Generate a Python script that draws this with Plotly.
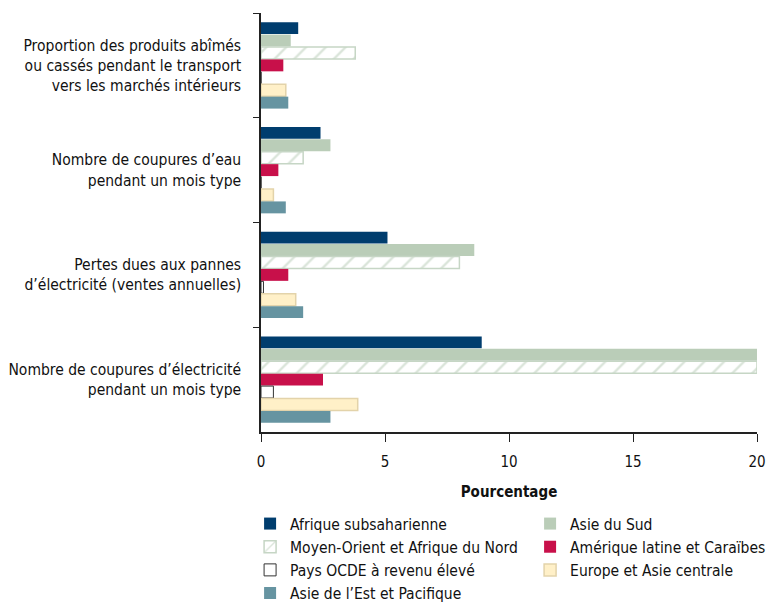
import plotly.graph_objects as go

# Indicator categories (top to bottom)
categories = [
    "Proportion des produits abîmés<br>ou cassés pendant le transport<br>vers les marchés intérieurs",
    "Nombre de coupures d’eau<br>pendant un mois type",
    "Pertes dues aux pannes<br>d’électricité (ventes annuelles)",
    "Nombre de coupures d’électricité<br>pendant un mois type",
]

# Values per region (percentage), in category order
afrique_subsaharienne = [1.5, 2.4, 5.1, 8.9]
asie_du_sud = [1.2, 2.8, 8.6, 20.0]
moyen_orient_afrique_nord = [3.8, 1.7, 8.0, 20.0]
amerique_latine_caraibes = [0.9, 0.7, 1.1, 2.5]
pays_ocde = [0.0, 0.0, 0.1, 0.5]
europe_asie_centrale = [1.0, 0.5, 1.4, 3.9]
asie_est_pacifique = [1.1, 1.0, 1.7, 2.8]

series = [
    ("Afrique subsaharienne", afrique_subsaharienne,
     dict(color="#003d6e", line=dict(width=0))),
    ("Asie du Sud", asie_du_sud,
     dict(color="#bacdb8", line=dict(width=0))),
    ("Moyen-Orient et Afrique du Nord", moyen_orient_afrique_nord,
     dict(color="white", line=dict(color="#c6d6c5", width=1.5),
          pattern=dict(shape="/", fgcolor="#b5cab4", bgcolor="white", size=14, solidity=0.17))),
    ("Amérique latine et Caraïbes", amerique_latine_caraibes,
     dict(color="#c8104a", line=dict(width=0))),
    ("Pays OCDE à revenu élevé", pays_ocde,
     dict(color="white", line=dict(color="#333333", width=1))),
    ("Europe et Asie centrale", europe_asie_centrale,
     dict(color="#fff0c8", line=dict(color="#e3d3aa", width=1.5))),
    ("Asie de l’Est et Pacifique", asie_est_pacifique,
     dict(color="#6694a1", line=dict(width=0))),
]

FONT = "Liberation Sans Narrow, DejaVu Sans Condensed, Arial Narrow, sans-serif"

fig = go.Figure()
for name, vals, marker in series:
    fig.add_trace(go.Bar(
        y=categories, x=vals, name=name, orientation="h",
        marker=marker, cliponaxis=True,
    ))

fig.update_layout(
    width=769, height=603,
    margin=dict(l=261, r=12, t=13, b=171, autoexpand=False),
    paper_bgcolor="white", plot_bgcolor="white",
    font=dict(family=FONT, size=15, color="#111111"),
    barmode="group", bargap=0.17, bargroupgap=0.04,
    showlegend=True,
    legend=dict(
        orientation="h", x=-0.022, xanchor="left", y=-0.179, yanchor="top",
        entrywidth=235, entrywidthmode="pixels",
        font=dict(family=FONT, size=15.5, color="#111111"),
        traceorder="normal", itemclick=False,
    ),
    xaxis=dict(
        range=[0, 20], tickvals=[0, 5, 10, 15, 20],
        showgrid=False, zeroline=False,
        showline=True, linecolor="#222222", linewidth=1.5,
        ticks="outside", ticklen=8, tickcolor="#222222",
        tickfont=dict(family=FONT, size=15),
        ticklabelstandoff=7,
        title=dict(text="<b>Pourcentage</b>", standoff=17,
                   font=dict(family=FONT, size=15)),
    ),
    yaxis=dict(
        autorange="reversed", showgrid=False,
        showline=True, linecolor="#222222", linewidth=1.5,
        ticks="outside", ticklen=6, tickcolor="#222222", tickson="boundaries",
        tickfont=dict(family=FONT, size=15.5),
        ticklabelstandoff=15,
    ),
)

fig.write_html("out.html")
